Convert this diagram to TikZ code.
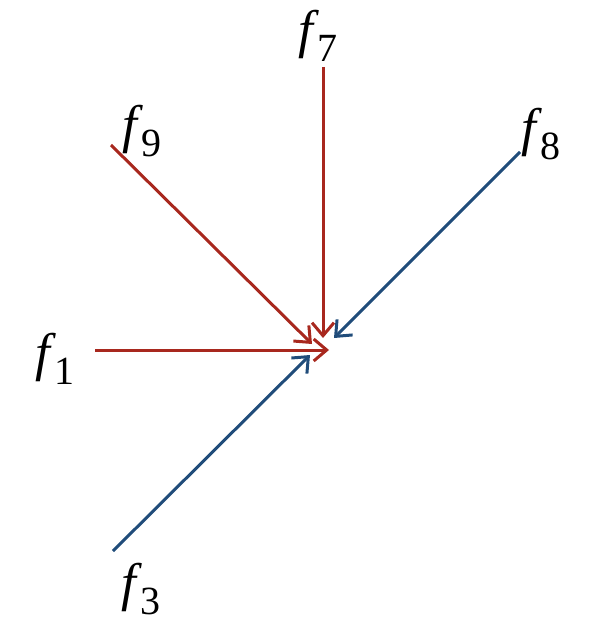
\documentclass[tikz,border=0pt]{standalone}
\usepackage{fontspec}
\setmainfont{Liberation Serif}
\usetikzlibrary{arrows.meta}
\definecolor{fred}{RGB}{168,40,30}
\definecolor{fblue}{RGB}{32,76,122}
\newcommand\flab[1]{\textit{f}\kern-2pt\raisebox{-0.26em}{\fontsize{40}{40}\selectfont #1}}
\begin{document}
\begin{tikzpicture}[x=1pt,y=-1pt,
  lab/.style={font=\fontsize{53}{53}\selectfont, inner sep=0pt},
  arr/.style={line width=3pt,-{Straight Barb[length=13pt,width=22pt]}},
  redarr/.style={arr,draw=fred},
  bluearr/.style={arr,draw=fblue}]
\useasboundingbox (0,0) rectangle (594,628);
% labels
\node[lab] (l7) at (318,36) {\flab{7}};
\node[lab] (l9) at (142,131) {\flab{9}};
\node[lab] (l8) at (541,134) {\flab{8}};
\node[lab] (l1) at (55,359) {\flab{1}};
\node[lab] (l3) at (141,589) {\flab{3}};
% start points
\coordinate (s7) at (323,67);
\coordinate (s9) at (111,145);
\coordinate (s8) at (520,152);
\coordinate (s1) at (95,350);
\coordinate (s3) at (113,551);
% tips
\coordinate (t7) at (323,338);
\coordinate (t9) at (312,344);
\coordinate (t8) at (334,338);
\coordinate (t1) at (329,350);
\coordinate (t3) at (310,355);
\draw[redarr] (s7) -- (t7);
\draw[redarr] (s9) -- (t9);
\draw[redarr] (s1) -- (t1);
\draw[bluearr] (s8) -- (t8);
\draw[bluearr] (s3) -- (t3);
\end{tikzpicture}
\end{document}
